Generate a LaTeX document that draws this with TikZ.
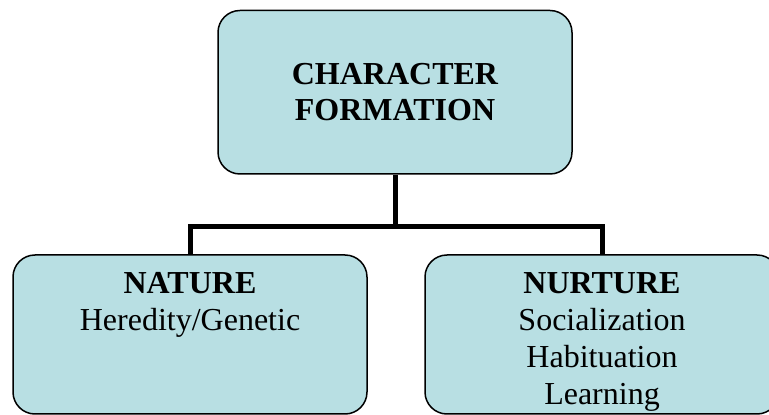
\documentclass[tikz,border=0pt]{standalone}
\usepackage{fontspec}
\setmainfont{Liberation Serif}
\definecolor{boxblue}{RGB}{184,223,227}

\begin{document}
\begin{tikzpicture}[x=1pt,y=1pt,
    box/.style={draw=black,line width=1.5pt,fill=boxblue,rounded corners=22pt,minimum width=354pt,inner sep=0pt},
    boxtext/.style={align=center,inner sep=0pt,font=\fontsize{32}{37}\selectfont},
    link/.style={line width=5pt,black}]

    % Frame
    \useasboundingbox (0,0) rectangle (769,415);
    \clip (0,0) rectangle (769,415);

    % Top box
    \node[box,boxtext,font=\fontsize{32}{36.5}\selectfont\bfseries,minimum height=163.5pt] (character) at (395,322.75) {CHARACTER\\FORMATION};

    % Bottom boxes
    \node[box,minimum height=159pt] (nature) at (190,80.5) {};
    \node[box,minimum height=159pt] (nurture) at (602,80.5) {};

    % Box texts
    \node[boxtext,anchor=north] (natureText) at ([yshift=-18pt]nature.north) {\textbf{NATURE}\\Heredity/Genetic};
    \node[boxtext,anchor=north] (nurtureText) at ([yshift=-18pt]nurture.north) {\textbf{NURTURE}\\Socialization\\Habituation\\Learning};

    % Connectors
    \coordinate (split) at (395,188.5);
    \draw[link] (character.south) -- (split);
    \draw[link] (nature.north) |- (split) -| (nurture.north);
\end{tikzpicture}
\end{document}
